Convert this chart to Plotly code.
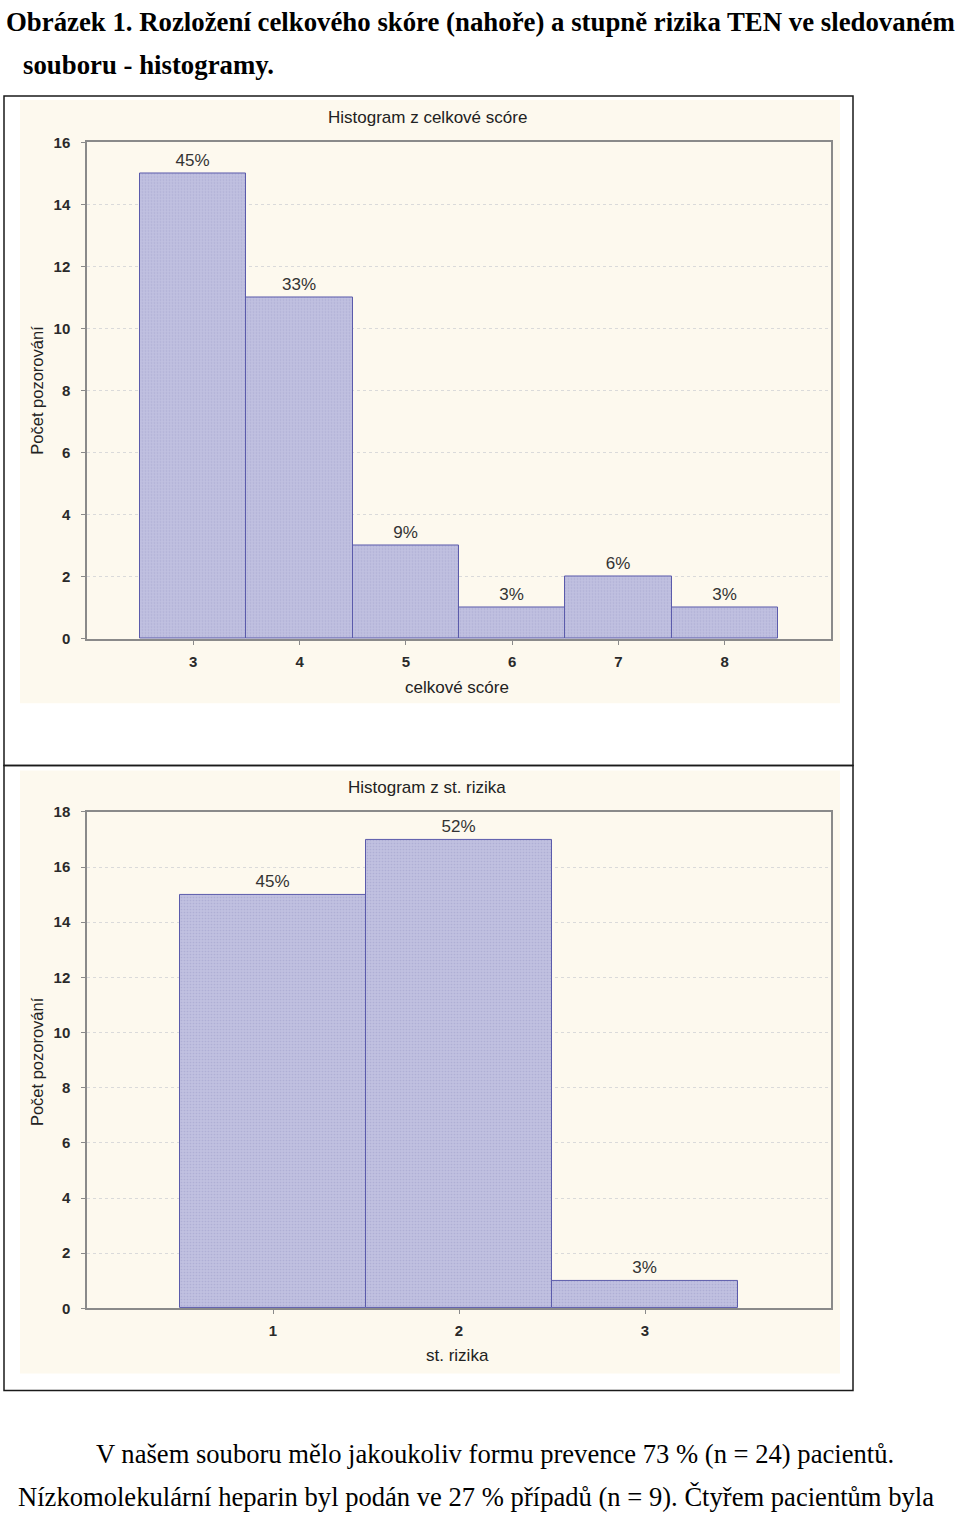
import plotly.graph_objects as go

# ---- data ----
score_cats = [3, 4, 5, 6, 7, 8]
score_counts = [15, 11, 3, 1, 2, 1]
score_pct = ["45%", "33%", "9%", "3%", "6%", "3%"]

risk_cats = [1, 2, 3]
risk_counts = [15, 17, 1]
risk_pct = ["45%", "52%", "3%"]

score_ticks = [0, 2, 4, 6, 8, 10, 12, 14, 16]
risk_ticks = [0, 2, 4, 6, 8, 10, 12, 14, 16, 18]

heading1 = "Obrázek 1. Rozložení celkového skóre (nahoře) a stupně rizika TEN ve sledovaném"
heading2 = "souboru - histogramy."
footer1 = "V našem souboru mělo jakoukoliv formu prevence 73 % (n = 24) pacientů."
footer2 = "Nízkomolekulární heparin byl podán ve 27 % případů (n = 9). Čtyřem pacientům byla"

W, H = 960, 1523


def px(x):
    return x / W


def py(y):
    return 1 - y / H


BAR_FILL = "#c0c0e0"
BAR_LINE = "#5b5bab"
SANS = "Liberation Sans, Arial, sans-serif"
SERIF = "Liberation Serif, Times New Roman, serif"

fig = go.Figure()

bar_common = dict(
    width=1,
    marker=dict(
        color=BAR_FILL,
        line=dict(color=BAR_LINE, width=1),
        pattern=dict(shape=".", size=3, solidity=0.25, fgcolor="#9c9cc8"),
    ),
    textposition="outside",
    textfont=dict(family=SANS, size=17, color="#333333"),
    cliponaxis=False,
    showlegend=False,
    hoverinfo="skip",
)

fig.add_trace(go.Bar(x=score_cats, y=score_counts, text=score_pct,
                     xaxis="x", yaxis="y", **bar_common))
fig.add_trace(go.Bar(x=risk_cats, y=risk_counts, text=risk_pct,
                     xaxis="x2", yaxis="y2", **bar_common))

axis_common = dict(
    showline=True, mirror=True, linecolor="#8a8a8a", linewidth=1.5,
    tickfont=dict(family=SANS, size=15, color="#2a2a2a", weight="bold"),
    zeroline=False, fixedrange=True,
)
xaxis_extra = dict(ticks="outside", ticklen=4, tickcolor="#8a8a8a",
                   ticklabelstandoff=4, showgrid=False)
yaxis_extra = dict(ticks="outside", ticklen=4, tickcolor="#8a8a8a",
                   ticklabelstandoff=8, showgrid=True, gridcolor="#dadada",
                   griddash="dot", gridwidth=1)

fig.update_layout(
    width=W, height=H,
    margin=dict(l=0, r=0, t=0, b=0),
    paper_bgcolor="white",
    plot_bgcolor="white",
    bargap=0,
    xaxis=dict(domain=[px(87), px(831)], anchor="y", range=[2, 9],
               tickvals=score_cats, **xaxis_extra, **axis_common),
    yaxis=dict(domain=[py(637), py(135)], anchor="x", range=[0, 16],
               tickvals=score_ticks, **yaxis_extra, **axis_common),
    xaxis2=dict(domain=[px(87), px(831)], anchor="y2", range=[0, 4],
                tickvals=risk_cats, **xaxis_extra, **axis_common),
    yaxis2=dict(domain=[py(1314), py(812)], anchor="x2", range=[0, 18],
                tickvals=risk_ticks, **yaxis_extra, **axis_common),
)

shapes = []
# cream backgrounds of the two chart images
for (y0, y1) in [(92, 702), (770, 1380)]:
    shapes.append(dict(type="rect", xref="paper", yref="paper",
                       x0=px(20), x1=px(840), y0=py(y1), y1=py(y0),
                       fillcolor="#fdf9ee", line=dict(width=0), layer="below"))
# black frames
for (y0, y1) in [(88, 765), (765, 1397)]:
    shapes.append(dict(type="rect", xref="paper", yref="paper",
                       x0=px(4), x1=px(853), y0=py(y1), y1=py(y0),
                       fillcolor="rgba(0,0,0,0)", line=dict(color="#1a1a1a", width=1.5),
                       layer="above"))
fig.update_layout(shapes=shapes)

ann = []


def add_text(text, x, y, size, family, xanchor="center", yanchor="middle",
             color="#222222", angle=0, bold=False):
    t = f"<b>{text}</b>" if bold else text
    ann.append(dict(text=t, x=px(x), y=py(y), xref="paper", yref="paper",
                    showarrow=False, xanchor=xanchor, yanchor=yanchor,
                    textangle=angle, font=dict(size=size, family=family, color=color)))


add_text(heading1, 4, 13, 26.8, SERIF, xanchor="left", color="black", bold=True)
add_text(heading2, 21, 57, 26.8, SERIF, xanchor="left", color="black", bold=True)

add_text("Histogram z celkové scóre", 427, 110, 17, SANS)
add_text("celkové scóre", 457, 686, 17, SANS)
add_text("Počet pozorování", 37, 386, 16.5, SANS, angle=-90)

add_text("Histogram z st. rizika", 427, 787, 17, SANS)
add_text("st. rizika", 457, 1362, 17, SANS)
add_text("Počet pozorování", 37, 1065, 16.5, SANS, angle=-90)

add_text(footer1, 495, 1461, 26.6, SERIF, color="black")
add_text(footer2, 476, 1505, 26.6, SERIF, color="black")

fig.update_layout(annotations=ann)

fig.write_html(
    "out.html",
    config={"displayModeBar": False},
    post_script="document.body.style.margin='0';document.body.style.overflow='hidden';",
)
